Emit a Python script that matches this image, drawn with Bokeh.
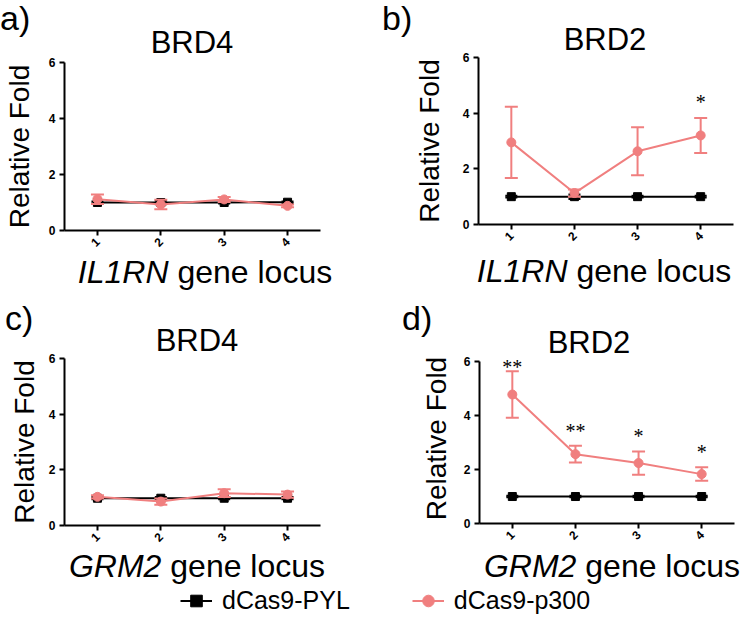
import math
from bokeh.plotting import figure
from bokeh.models import Range1d, FixedTicker, LabelSet, ColumnDataSource, Legend, LegendItem, Div
from bokeh.layouts import column, row
from bokeh.embed import file_html
from bokeh.resources import INLINE

# ---------------- data ----------------
loci = [1, 2, 3, 4]
locus_labels = ["1", "2", "3", "4"]
y_ticks = [0, 2, 4, 6]

series_names = ["dCas9-PYL", "dCas9-p300"]

# a) BRD4 at IL1RN
a_pyl = [1.00, 1.00, 1.00, 1.01]
a_pyl_err = [0.04, 0.06, 0.04, 0.03]
a_p300 = [1.12, 0.93, 1.11, 0.88]
a_p300_err = [0.17, 0.17, 0.09, 0.05]
a_stars = ["", "", "", ""]

# b) BRD2 at IL1RN
b_pyl = [1.00, 1.00, 1.00, 1.00]
b_pyl_err = [0.03, 0.08, 0.03, 0.03]
b_p300 = [2.95, 1.13, 2.63, 3.20]
b_p300_err = [1.28, 0.13, 0.86, 0.63]
b_stars = ["", "", "", "*"]

# c) BRD4 at GRM2
c_pyl = [0.98, 0.98, 0.98, 0.98]
c_pyl_err = [0.04, 0.04, 0.04, 0.04]
c_p300 = [1.03, 0.86, 1.16, 1.11]
c_p300_err = [0.06, 0.11, 0.14, 0.11]
c_stars = ["", "", "", ""]

# d) BRD2 at GRM2
d_pyl = [1.00, 1.00, 1.00, 1.00]
d_pyl_err = [0.03, 0.03, 0.03, 0.03]
d_p300 = [4.78, 2.57, 2.24, 1.83]
d_p300_err = [0.86, 0.31, 0.43, 0.25]
d_stars = ["**", "**", "*", "*"]

# ---------------- style ----------------
PINK = "#F07F7F"
FONT = "Liberation Sans"
CSS_FONT = "'Liberation Sans', Arial, sans-serif"
X0, X1 = 0.48, 4.52
ASC = 0.8465  # baseline offset (fraction of font size) for line-height == font-size
LETTER_FS, TITLE_FS, XLAB_FS = 34, 31, 32


def span(text, left, baseline, size, center=False):
    top = baseline - ASC * size
    tr = "transform:translateX(-50%);" if center else ""
    return (f'<span style="position:absolute;left:{left}px;top:{top:.1f}px;'
            f'font-size:{size}px;line-height:{size}px;white-space:nowrap;{tr}">{text}</span>')


def box(inner, w, h):
    html = (f'<div style="position:relative;width:{w}px;height:{h}px;'
            f'font-family:{CSS_FONT};color:#000;margin:0;padding:0;">{inner}</div>')
    return Div(text=html, width=w, height=h, margin=(0, 0, 0, 0))


def panel(letter, title, gene, pyl, pyl_err, p300, p300_err, stars, g):
    w = g["w"]
    y_top = g.get("ytop", 6)
    p = figure(width=w, height=g["fh"] + g["bt"] + g["bb"], x_range=Range1d(X0, X1),
               y_range=Range1d(0, y_top), output_backend="svg", toolbar_location=None,
               min_border=0, margin=(0, 0, 0, 0))
    p.min_border_left = g["bl"]
    p.min_border_right = w - g["bl"] - g["fw"]
    p.min_border_top = g["bt"]
    p.min_border_bottom = g["bb"]
    p.grid.visible = False
    p.outline_line_color = None

    # axes
    p.xaxis.ticker = FixedTicker(ticks=loci)
    p.xaxis.major_label_overrides = {k: v for k, v in zip(loci, locus_labels)}
    p.yaxis.ticker = FixedTicker(ticks=y_ticks)
    p.yaxis.bounds = (y_ticks[0], y_ticks[-1])
    for ax in (p.xaxis[0], p.yaxis[0]):
        ax.axis_line_width = 2
        ax.axis_line_color = "black"
        ax.major_tick_line_width = 2
        ax.major_tick_line_color = "black"
        ax.major_tick_out = 5
        ax.major_tick_in = 0
        ax.minor_tick_line_color = None
        ax.major_label_text_font = FONT
        ax.major_label_text_font_style = "bold"
        ax.major_label_text_font_size = "12px"
        ax.major_label_text_color = "black"
        ax.major_label_standoff = 4
    p.xaxis.major_label_orientation = math.pi / 4
    p.yaxis.axis_label = "Relative Fold"
    p.yaxis.axis_label_text_font = FONT
    p.yaxis.axis_label_text_font_style = "normal"
    p.yaxis.axis_label_text_font_size = "28px"
    p.yaxis.axis_label_text_color = "black"
    p.yaxis.axis_label_standoff = g["ylab_standoff"]

    # series: dCas9-PYL (black, squares)
    src1 = ColumnDataSource(dict(x=loci, y=pyl,
                                 lo=[m - e for m, e in zip(pyl, pyl_err)],
                                 hi=[m + e for m, e in zip(pyl, pyl_err)]))
    p.line("x", "y", source=src1, line_color="black", line_width=2)
    p.segment(x0="x", y0="lo", x1="x", y1="hi", source=src1, line_color="black", line_width=2)
    p.scatter("x", "hi", source=src1, marker="dash", size=12, line_color="black", line_width=2)
    p.scatter("x", "lo", source=src1, marker="dash", size=12, line_color="black", line_width=2)
    p.scatter("x", "y", source=src1, marker="square", size=8, color="black")

    # series: dCas9-p300 (pink, circles)
    src2 = ColumnDataSource(dict(x=loci, y=p300,
                                 lo=[m - e for m, e in zip(p300, p300_err)],
                                 hi=[m + e for m, e in zip(p300, p300_err)]))
    p.line("x", "y", source=src2, line_color=PINK, line_width=2)
    p.segment(x0="x", y0="lo", x1="x", y1="hi", source=src2, line_color=PINK, line_width=2)
    p.scatter("x", "hi", source=src2, marker="dash", size=13, line_color=PINK, line_width=2)
    p.scatter("x", "lo", source=src2, marker="dash", size=13, line_color=PINK, line_width=2)
    p.scatter("x", "y", source=src2, marker="circle", size=9, color=PINK)

    # significance stars
    uy = y_top / g["fh"]
    sx, sy, st = [], [], []
    for x, m, e, s in zip(loci, p300, p300_err, stars):
        if s:
            sx.append(x)
            sy.append(min(m + e + 0.75, 5.97) - 12 * uy)
            st.append(s)
    if st:
        p.add_layout(LabelSet(x="x", y="y", text="text",
                              source=ColumnDataSource(dict(x=sx, y=sy, text=st)),
                              text_align="center", text_baseline="alphabetic",
                              text_font=FONT, text_font_size="20px", text_color="black"))

    header = box(span(letter, g["letter_x"], g["letter_base"], LETTER_FS) +
                 span(title, g["title_cx"], g["title_base"], TITLE_FS, center=True),
                 w, g["head_h"])
    xlab = box(span(f"<i>{gene}</i> gene locus", g["xlab_cx"], g["xlab_base"], XLAB_FS, center=True),
               w, g["xlab_h"])
    return column(header, p, xlab, spacing=0, margin=(0, 0, 0, 0))


geo_a = dict(w=367, head_h=54, letter_x=0, letter_base=30, title_cx=192, title_base=53,
             bt=8, fh=168, bb=25, bl=64, fw=256, ylab_standoff=11,
             xlab_h=45, xlab_cx=205, xlab_base=28)
geo_b = dict(w=368, head_h=50, letter_x=15, letter_base=30, title_cx=238, title_base=50,
             bt=7, fh=167, bb=30, bl=111, fw=255, ylab_standoff=15,
             xlab_h=46, xlab_cx=237, xlab_base=28)
geo_c = dict(w=367, head_h=51, letter_x=5, letter_base=30, title_cx=197, title_base=51,
             bt=7, fh=167, bb=24, bl=64, fw=256, ylab_standoff=6,
             xlab_h=37, xlab_cx=197, xlab_base=28)
geo_d = dict(w=368, head_h=53, letter_x=35, letter_base=30, title_cx=222, title_base=53,
             bt=0, fh=170, bb=26, bl=112, fw=255, ylab_standoff=9, ytop=6.3,
             xlab_h=37, xlab_cx=245, xlab_base=28)

pa = panel("a)", "BRD4", "IL1RN", a_pyl, a_pyl_err, a_p300, a_p300_err, a_stars, geo_a)
pb = panel("b)", "BRD2", "IL1RN", b_pyl, b_pyl_err, b_p300, b_p300_err, b_stars, geo_b)
pc = panel("c)", "BRD4", "GRM2", c_pyl, c_pyl_err, c_p300, c_p300_err, c_stars, geo_c)
pd_ = panel("d)", "BRD2", "GRM2", d_pyl, d_pyl_err, d_p300, d_p300_err, d_stars, geo_d)

# legend strip (its renderers hold the series but lie outside the strip's visible range)
lf = figure(width=735, height=29, x_range=Range1d(100, 101), y_range=Range1d(100, 101),
            output_backend="svg", toolbar_location=None, min_border=0, margin=(0, 0, 0, 0))
lf.axis.visible = False
lf.grid.visible = False
lf.outline_line_color = None
r1 = lf.line(x=loci, y=a_pyl, line_color="black", line_width=2)
r2 = lf.scatter(x=loci, y=a_pyl, marker="square", size=8, color="black")
r3 = lf.line(x=loci, y=a_p300, line_color=PINK, line_width=2)
r4 = lf.scatter(x=loci, y=a_p300, marker="circle", size=9, color=PINK)
legend = Legend(items=[LegendItem(label=series_names[0], renderers=[r1, r2]),
                       LegendItem(label=series_names[1], renderers=[r3, r4])],
                orientation="horizontal", location=(180, 0), padding=0, margin=0,
                spacing=62, glyph_width=32, glyph_height=29, label_height=29,
                label_standoff=10, label_text_font=FONT, label_text_font_size="25px",
                label_text_color="black", border_line_color=None, background_fill_alpha=0)
lf.add_layout(legend)

layout = column(row(pa, pb, spacing=0), row(pc, pd_, spacing=0), lf, spacing=0)

with open("out.html", "w") as f:
    f.write(file_html(layout, INLINE))
